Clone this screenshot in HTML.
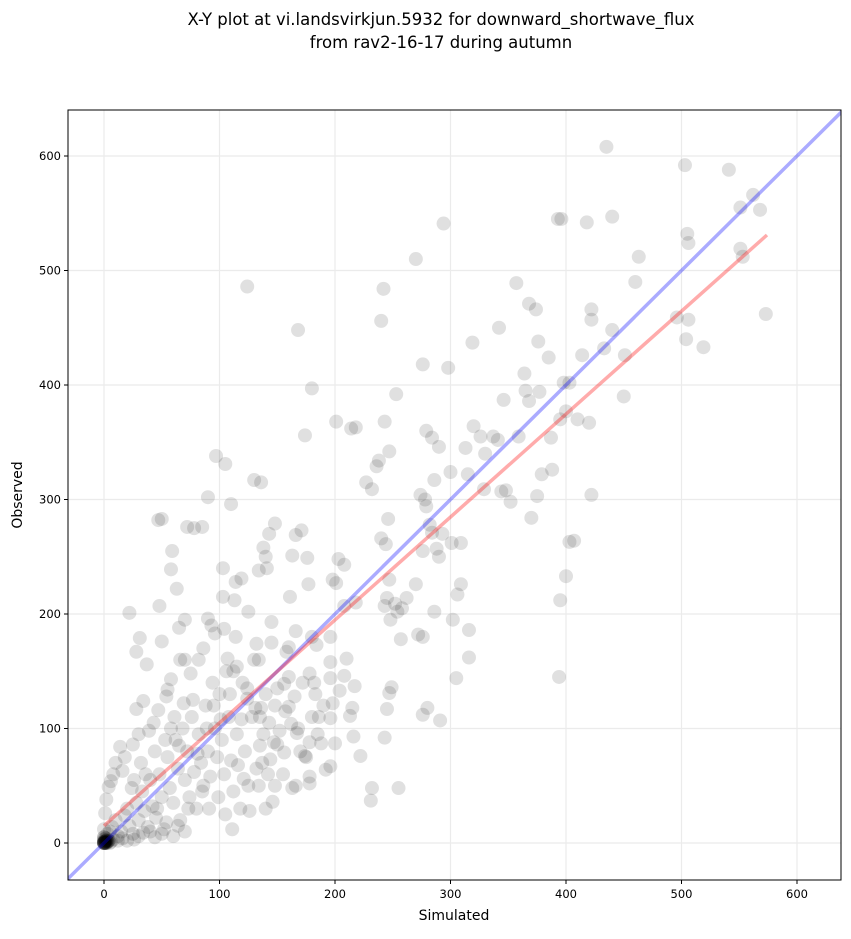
<!DOCTYPE html>
<html><head><meta charset="utf-8"><style>
body{margin:0;background:#fff;font-family:"Liberation Sans","DejaVu Sans",sans-serif;}
svg text{font-family:"DejaVu Sans","Liberation Sans",sans-serif;}
</style></head><body>
<svg id="chart" width="851" height="934" xmlns="http://www.w3.org/2000/svg">
<text x="441" y="25" text-anchor="middle" font-size="16.5">X-Y plot at vi.landsvirkjun.5932 for downward_shortwave_flux</text>
<text x="441" y="48" text-anchor="middle" font-size="16.5">from rav2-16-17 during autumn</text>
<g id="grid"></g><g id="pts"></g><g id="lines"></g><g id="axes"></g>
<rect x="68" y="110" width="773" height="770" fill="none" stroke="#000" stroke-width="1"/>
<text x="454" y="920" text-anchor="middle" font-size="14">Simulated</text>
<text transform="translate(22,495) rotate(-90)" text-anchor="middle" font-size="14">Observed</text>
</svg>
<script>
const xTicks=[0,100,200,300,400,500,600];
const yTicks=[0,100,200,300,400,500,600];
const fitStart=[0,15];
const fitEnd=[574,531];
const simulated=[435,503,541,562,568,551,505,506,551,553,463,460,440,393,396,418,294,124,242,270,357,573,506,496,422,422,374,368,440,451,519,504,342,240,168,319,376,433,414,385,364,365,377,398,403,450,253,298,276,180,
368,346,359,341,337,326,330,320,313,300,284,290,279,243,247,236,238,227,232,201,214,218,174,387,388,379,395,400,420,410,422,407,403,400,395,394,375,370,352,348,344,329,315,309,301,279,284,282,276,288,290,293,286,274,278,309,316,316,306,302,305,291,280,276,276,272,286,270,262,258,254,248,245,243,247,240,244,246,252,257,255,249,247,243,245,232,231,222,216,215,213,217,218,208,208,203,201,198,196,210,208,204,196,196,198,196,200,196,192,188,186,183,182,184,180,178,177,176,171,166,163,166,161,160,158,156,160,162,167,170,174,178,178,178,166,163,156,150,146,144,148,141,143,148,138,136,130,140,134,145,140,136,135,134,132,124,124,119,113,114,114,125,105,110,103,103,97,90,85,78,72,50,47,59,58,63,48,22,28,31,37,50,65,70,90,96,93,104,107,115,112,86,82,75,70,66,58,55,47,54,43,34,28,39,30,25,14,10,8,16,6,4,2,1,0,0,0,1,2,3,5,7,10,12,15,18,20,22,25,28,30,33,35,38,40,42,45,48,50,52,55,57,60,62,64,66,68,70,72,74,76,78,80,82,84,86,88,90,92,94,96,98,100,102,104,106,108,110,112,115,118,120,122,125,128,130,132,135,138,140,143,145,148,150,152,155,157,160,165,168,172,175,180,185,190,18,24,26,32,36,44,46,53,58,61,65,69,73,77,81,85,89,91,95,99,101,105,109,111,116,119,121,126,131,134,137,142,147,40,44,50,54,60,64,70,3,5,8,12,16,20,26,30,34,0,1,2,0,1,3,0,2,4,6,1,0,0,1,0,2,0,1,3,2,0,1,4,0];
const observed=[608,592,588,566,553,555,532,524,519,512,512,490,547,545,545,542,541,486,484,510,489,462,457,459,466,457,466,471,448,426,433,440,450,456,448,437,438,432,426,424,410,395,394,402,402,390,392,415,418,397,
386,387,355,352,355,355,340,364,345,324,354,346,360,368,342,329,334,315,309,368,362,363,356,354,326,322,370,377,367,370,304,264,263,233,212,145,303,284,298,308,307,309,322,262,262,294,271,278,255,257,250,270,317,304,300,226,186,162,217,195,144,107,118,112,180,182,202,226,214,205,202,195,214,207,230,266,261,283,209,178,48,136,131,92,117,48,37,76,93,118,111,137,210,207,243,248,227,230,180,161,146,133,158,144,122,109,87,67,64,87,110,130,140,173,180,148,226,249,273,269,251,185,215,171,167,139,119,104,96,80,76,88,58,52,50,48,79,86,36,73,50,240,270,279,258,315,317,250,238,193,130,118,110,160,174,135,126,231,212,180,228,202,331,296,240,215,338,302,276,275,276,283,282,255,239,222,207,201,167,179,156,176,188,195,196,183,190,187,161,154,150,170,160,148,160,160,143,134,116,128,105,124,117,98,95,86,84,70,60,63,54,49,38,26,12,5,0,2,4,8,10,14,20,6,10,24,30,15,8,35,20,45,28,14,55,32,22,60,40,12,75,48,35,90,65,20,100,55,80,40,110,62,30,95,70,50,120,80,58,140,100,75,130,90,60,150,110,72,45,95,30,140,80,50,110,160,65,85,95,30,105,175,120,135,98,60,115,145,128,100,140,75,110,95,120,75,48,55,70,60,80,30,90,100,110,85,122,30,125,78,45,100,30,120,40,108,25,130,12,68,108,56,28,118,50,70,60,88,10,5,8,18,6,15,10,1,0,3,2,4,2,3,6,9,0,1,2,3,0,1,5,0,2,1,4,0,0,1,0,2,1,0,3,0,1,0,2,1];
const X0=104,XS=1.155,Y0=843,YS=1.145,L=68,R=841,T=110,B=880;
const sx=v=>X0+v*XS, sy=v=>Y0-v*YS;
const NS="http://www.w3.org/2000/svg";
function mk(tag,attrs,parent){const e=document.createElementNS(NS,tag);for(const k in attrs)e.setAttribute(k,attrs[k]);parent.appendChild(e);return e;}
const grid=document.getElementById('grid'),axes=document.getElementById('axes');
xTicks.forEach(t=>{const x=sx(t);
 const g=mk('line',{x1:x,x2:x,y1:T,y2:B,stroke:'#ebebeb','stroke-width':1.2},grid);
 
 
 mk('line',{x1:x,x2:x,y1:B,y2:B+4,stroke:'#000'},axes);
 const tx=mk('text',{x:x,y:B+18,'text-anchor':'middle','font-size':11.5},axes);tx.textContent=t;
 
 });
yTicks.forEach(t=>{const y=sy(t);
 const g=mk('line',{x1:L,x2:R,y1:y,y2:y,stroke:'#ebebeb','stroke-width':1.2},grid);
 
 
 mk('line',{x1:L-4,x2:L,y1:y,y2:y,stroke:'#000'},axes);
 const tx=mk('text',{x:L-7,y:y+4,'text-anchor':'end','font-size':11.5},axes);tx.textContent=t;
 
 });
const pts=document.getElementById('pts');
const n=Math.min(simulated.length,observed.length);
for(let i=0;i<n;i++){const c=mk('circle',{cx:sx(simulated[i]),cy:sy(observed[i]),r:7,fill:'#000','fill-opacity':0.12},pts);
 
 }
const lines=document.getElementById('lines');
const cp=mk('clipPath',{id:'clip'},document.getElementById('chart'));mk('rect',{x:L,y:T,width:R-L,height:B-T},cp);
lines.setAttribute('clip-path','url(#clip)');
const one=mk('line',{x1:sx(-40),y1:sy(-40),x2:sx(700),y2:sy(700),stroke:'#0000ff','stroke-opacity':0.33,'stroke-width':3.5},lines);


const fit=mk('line',{x1:sx(fitStart[0]),y1:sy(fitStart[1]),x2:sx(fitEnd[0]),y2:sy(fitEnd[1]),stroke:'#ff0000','stroke-opacity':0.33,'stroke-width':3.5},lines);


</script>
</body></html>
